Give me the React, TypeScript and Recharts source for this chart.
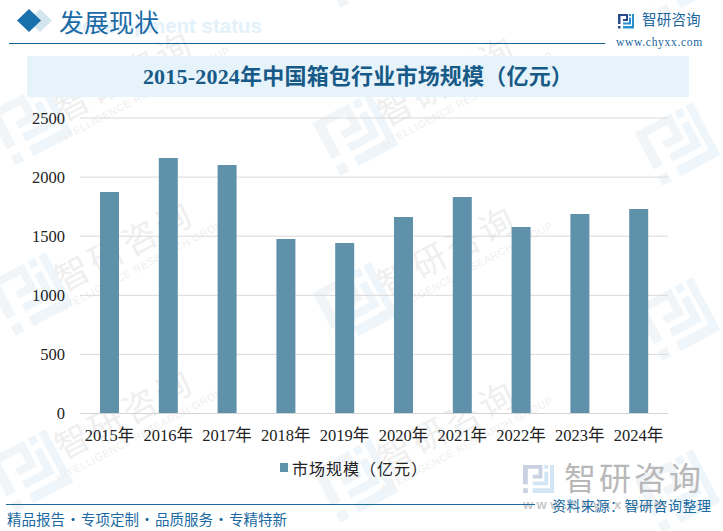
import React from "react";
import { BarChart, Bar, XAxis, YAxis, CartesianGrid } from "recharts";

const years = ["2015年", "2016年", "2017年", "2018年", "2019年", "2020年", "2021年", "2022年", "2023年", "2024年"];
const marketSize = [1874, 2162, 2102, 1476, 1442, 1662, 1832, 1578, 1688, 1730];
const yTicks = [0, 500, 1000, 1500, 2000, 2500];
const footerText = "精品报告 · 专项定制 · 品质服务 · 专精特新";
const logoSpots = [
  [30, -45], [30, 123], [30, 293], [30, 470], [355, -35], [355, 133], [355, 303], [355, 480], [677, -25], [677, 143], [677, 318], [677, 490],
];
const wordSpots = [
  [130, 83], [130, 253], [130, 421], [453, 88], [453, 258], [453, 433],
];

const chartData = years.map((year, i) => ({ year, value: marketSize[i] }));
const FONT = '"Liberation Serif", "Noto Sans CJK SC", serif';
const SANS = '"Noto Sans CJK SC", sans-serif';

function LogoMark({ x, y, size, opacity = 1, dark = "#2a4a8c", light = "#2a8fd0" }: any) {
  return (
    <svg style={{ position: "absolute", left: x, top: y, opacity }} width={size} height={size} viewBox="0 0 16 16">
      <path d="M0 1H10V8H5V6H8V3H2.5V11H0Z M0 13H2.5V15.5H0Z" fill={dark} />
      <path d="M11 1H13V3H11Z M14 1H16V15.5H5V13H14Z M11 4.5H13V11.5H5V9.5H11Z" fill={light} />
    </svg>
  );
}

function Watermarks() {
  return (
    <>
      {logoSpots.map(([cx, cy], i) => (
        <div key={"l" + i} style={{ position: "absolute", left: cx - 33, top: cy - 33, width: 66, height: 66, transform: "rotate(-28deg)" }}>
          <LogoMark x={0} y={0} size={66} dark="#f2f5f8" light="#eff6fb" />
        </div>
      ))}
      {wordSpots.map(([cx, cy], i) => (
        <div key={"w" + i} style={{ position: "absolute", left: cx - 90, top: cy - 30, width: 180, height: 66, transform: "rotate(-28deg)", textAlign: "center", whiteSpace: "nowrap", color: "#efefef" }}>
          <div style={{ fontFamily: SANS, fontSize: 34, letterSpacing: 4, lineHeight: "40px" }}>智研咨询</div>
          <div style={{ fontFamily: '"Liberation Sans", sans-serif', fontSize: 10.5, letterSpacing: 0.6, lineHeight: "14px" }}>INTELLIGENCE RESEARCH GROUP</div>
        </div>
      ))}
    </>
  );
}

export default function App() {
  return (
    <div style={{ position: "absolute", left: 0, top: 0, width: 723, height: 531, overflow: "hidden", background: "#fff" }}>
      <Watermarks />

      {/* header */}
      <div style={{ position: "absolute", left: 40, top: 15, width: 222, fontWeight: 700, color: "#e3f1fa", whiteSpace: "nowrap", textAlign: "right", lineHeight: "22px", fontFamily: '"Liberation Sans", sans-serif', fontSize: 20.5 }}>
        Development status
      </div>
      <svg style={{ position: "absolute", left: 0, top: 0 }} width={60} height={40}>
        <path d="M40 9L52 20.5L40 32L28 20.5Z" fill="#d3e5ef" />
        <path d="M29 9L41 20.5L29 32L17 20.5Z" fill="#1a70aa" />
      </svg>
      <div style={{ position: "absolute", left: 59, top: 4, fontFamily: SANS, fontSize: 25, color: "#1a6aa5", lineHeight: "34px", whiteSpace: "nowrap" }}>发展现状</div>
      <div style={{ position: "absolute", left: 9, top: 43, width: 596, height: 1, background: "#1a5f92" }} />
      <LogoMark x={618} y={13} size={16} />
      <div style={{ position: "absolute", left: 642, top: 9, fontFamily: SANS, fontSize: 14.5, color: "#1a659c", lineHeight: "20px", letterSpacing: 0.2, whiteSpace: "nowrap" }}>智研咨询</div>
      <div style={{ position: "absolute", left: 616, top: 35, fontFamily: '"Liberation Serif", serif', fontSize: 11.5, color: "#1a659c", lineHeight: "14px", letterSpacing: 0.7, whiteSpace: "nowrap" }}>www.chyxx.com</div>

      {/* title band */}
      <div style={{ position: "absolute", left: 27, top: 56, width: 662, height: 41, background: "#e6f3fb" }} />
      <div style={{ position: "absolute", left: 27, top: 56, width: 662, height: 41, lineHeight: "42px", textAlign: "center", fontFamily: FONT, fontWeight: 700, fontSize: 22, letterSpacing: 0.2, color: "#175a87", whiteSpace: "nowrap" }}>
        2015-2024年中国箱包行业市场规模（亿元）
      </div>

      {/* chart */}
      <div style={{ position: "absolute", left: 0, top: 0 }}>
        <BarChart width={723} height={531} data={chartData} margin={{ top: 118, right: 55, bottom: 77.5, left: 0 }} barSize={19}>
          <CartesianGrid vertical={false} stroke="#d9d9d9" strokeWidth={1} />
          <XAxis
            dataKey="year"
            interval={0}
            axisLine={{ stroke: "#d4d4d4", strokeWidth: 1 }}
            tickLine={false}
            tick={{ fontFamily: FONT, fontSize: 16.5, fill: "#222" }}
            tickMargin={10}
            height={40}
          />
          <YAxis
            width={80}
            domain={[0, 2500]}
            ticks={yTicks}
            axisLine={false}
            tickLine={false}
            tick={{ fontFamily: FONT, fontSize: 16.5, fill: "#222" }}
            tickMargin={9}
          />
          <Bar dataKey="value" fill="#5f92aa" isAnimationActive={false} />
        </BarChart>
      </div>

      {/* legend */}
      <div style={{ position: "absolute", left: 280, top: 463, width: 8, height: 9, background: "#5f92aa" }} />
      <div style={{ position: "absolute", left: 292, top: 457, fontFamily: SANS, fontSize: 16, color: "#222", lineHeight: "22px", letterSpacing: 1, whiteSpace: "nowrap" }}>市场规模（亿元）</div>

      {/* footer */}
      <svg style={{ position: "absolute", left: 523, top: 463 }} width={200} height={60}>
        <text x={41} y={27} fontFamily={SANS} fontSize={32} fill="#b8b8b8" letterSpacing={3}>智研咨询</text>
        <text x={0} y={46} fontFamily={'"Liberation Sans", sans-serif'} fontWeight={700} fontSize={13} fill="#c8c8c8" letterSpacing={3.5}>www.chyxx.com</text>
      </svg>
      <LogoMark x={523} y={463} size={31} opacity={0.4} dark="#7d8fb8" light="#8ec0e4" />
      <div style={{ position: "absolute", left: 6, top: 504, width: 529, height: 1, background: "#1a6aa0" }} />
      <div style={{ position: "absolute", left: 7, top: 509, fontFamily: SANS, fontSize: 14.5, wordSpacing: -2.5, color: "#1a6aa0", lineHeight: "20px", whiteSpace: "nowrap" }}>{footerText}</div>
      <div style={{ position: "absolute", left: 552, top: 495, fontFamily: SANS, fontSize: 14, color: "#1a6aa0", lineHeight: "20px", letterSpacing: 0.5, whiteSpace: "nowrap" }}>资料来源：智研咨询整理</div>
    </div>
  );
}
